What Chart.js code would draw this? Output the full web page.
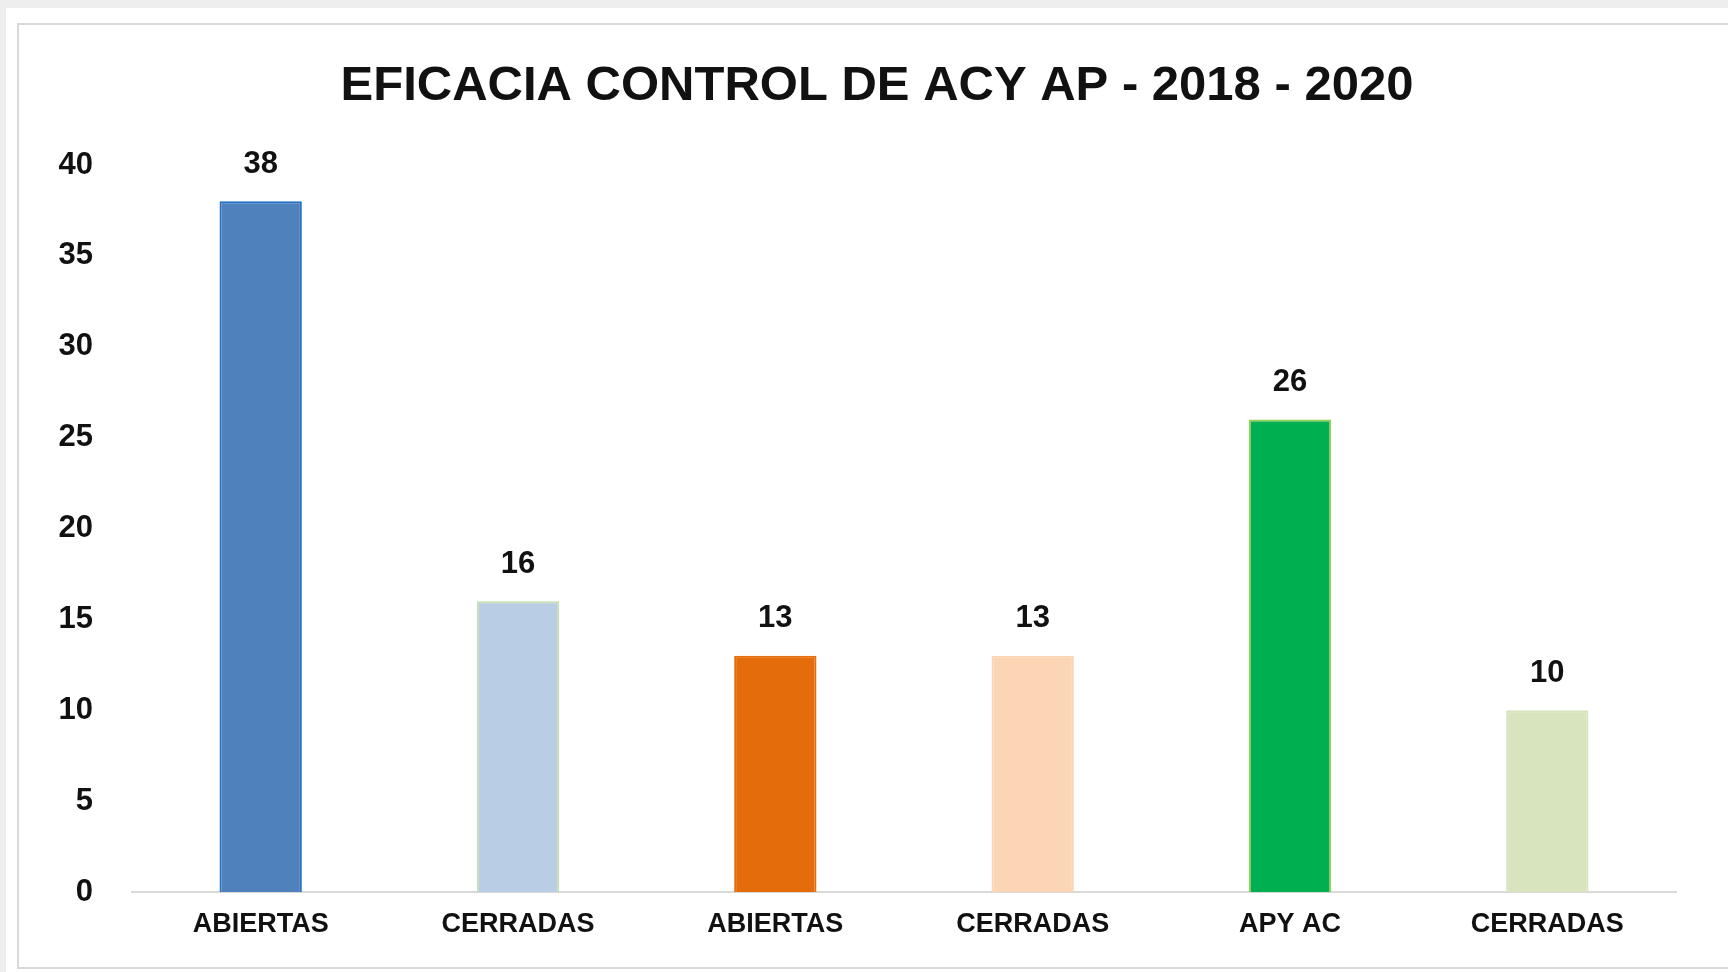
<!DOCTYPE html>
<html>
<head>
<meta charset="utf-8">
<script src="https://cdn.jsdelivr.net/npm/chart.js@4.4.0/dist/chart.umd.min.js"></script>
<style>
  html, body { margin: 0; padding: 0; }
  body { width: 1728px; height: 972px; background: #eeeeee; position: relative; overflow: hidden; }
  #panel { position: absolute; left: 6px; top: 8px; right: 0; bottom: 0; background: #fff; }
  #frame { position: absolute; left: 17px; top: 23px; width: 1740px; height: 942px; border: 2px solid #d9d9d9; }
  #chart { position: absolute; left: 0; top: 0; }
</style>
</head>
<body>
<div id="panel"></div>
<div id="frame"></div>
<canvas id="chart" width="1728" height="972"></canvas>
<script>
const chartTitle = 'EFICACIA CONTROL DE ACY AP - 2018 - 2020';
const categories = ['ABIERTAS', 'CERRADAS', 'ABIERTAS', 'CERRADAS', 'APY AC', 'CERRADAS'];
const values = [38, 16, 13, 13, 26, 10];
const barColors = ['#4f81bd', '#b9cde5', '#e46c0a', '#fcd5b5', '#00b050', '#d7e4bd'];
const barBorders = ['#1f74c4', '#c4dfb0', '#e46c0a', '#fcd5b5', '#92d050', '#d7e4bd'];
const yTicks = [0, 5, 10, 15, 20, 25, 30, 35, 40];

const fontFamily = "'Liberation Sans', Arial, sans-serif";

// values above the bars + the title (it sits a bit left of the plot centre)
const valueLabels = {
    id: 'valueLabels',
    afterDatasetsDraw(chart) {
        const ctx = chart.ctx;
        const meta = chart.getDatasetMeta(0);
        ctx.save();
        ctx.fillStyle = '#111';
        ctx.textAlign = 'center';
        ctx.textBaseline = 'middle';
        ctx.font = 'bold 31px ' + fontFamily;
        meta.data.forEach((bar, i) => {
            ctx.fillText(values[i], bar.x, bar.y - 37);
        });
        ctx.font = 'bold 49px ' + fontFamily;
        ctx.fillText(chartTitle, 877, 86);
        ctx.restore();
    }
};

const ctx = document.getElementById('chart').getContext('2d');
new Chart(ctx, {
    type: 'bar',
    data: {
        labels: categories,
        datasets: [{
            data: values,
            backgroundColor: barColors,
            borderColor: barBorders,
            borderWidth: 2,
            barPercentage: 0.32,
            categoryPercentage: 1.0
        }]
    },
    options: {
        responsive: false,
        animation: false,
        layout: { padding: { left: 0, right: 52, top: 165, bottom: 0 } },
        plugins: {
            legend: { display: false },
            tooltip: { enabled: false },
            title: { display: false }
        },
        scales: {
            x: {
                grid: { display: false, drawTicks: false },
                border: { display: true, color: '#d9d9d9', width: 2 },
                ticks: {
                    color: '#111',
                    padding: 16,
                    font: { family: fontFamily, size: 27, weight: 'bold' }
                },
                afterFit(scale) { scale.height = 80; }
            },
            y: {
                min: 0,
                max: 40,
                grid: { display: false, drawTicks: false },
                border: { display: false },
                afterBuildTicks(scale) { scale.ticks = yTicks.map(v => ({ value: v })); },
                ticks: {
                    color: '#111',
                    padding: 39,
                    font: { family: fontFamily, size: 31, weight: 'bold' }
                },
                afterFit(scale) { scale.width = 132; }
            }
        }
    },
    plugins: [valueLabels]
});
</script>
</body>
</html>
